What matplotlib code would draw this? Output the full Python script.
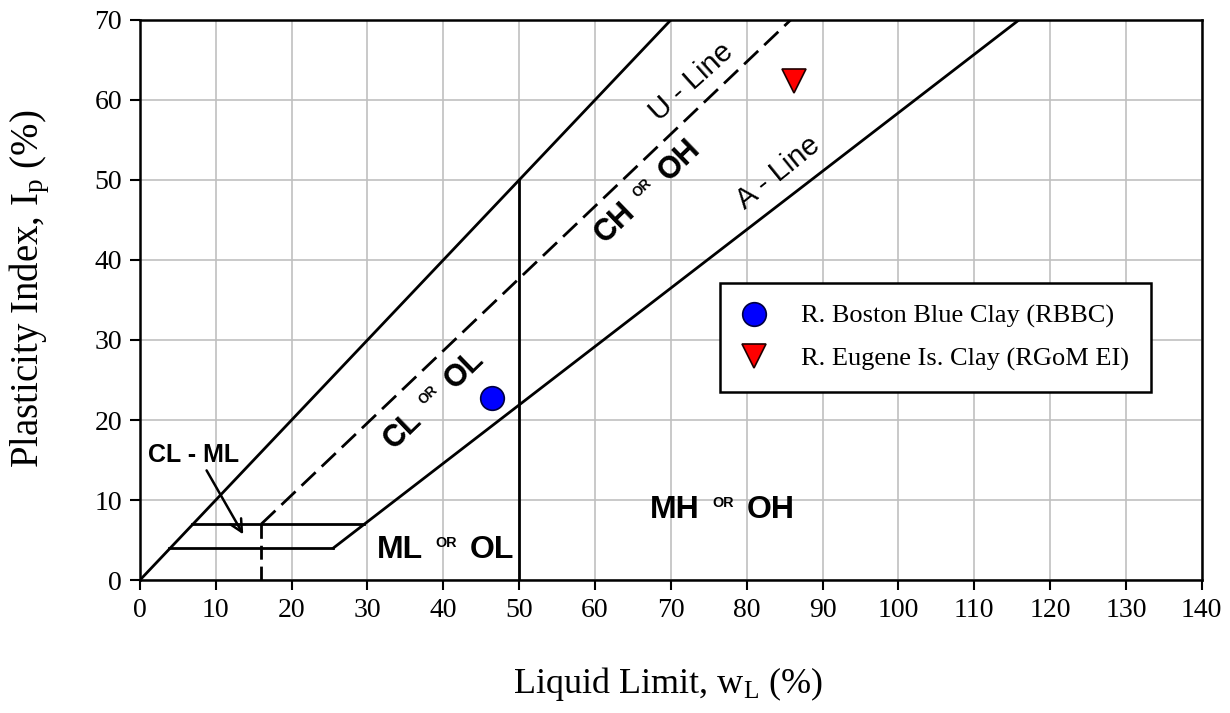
import numpy as np
import matplotlib
matplotlib.use("Agg")
import matplotlib.pyplot as plt
import matplotlib.transforms as mtransforms

# data points
rbbc_wl = [46.4]
rbbc_ip = [22.7]
rgom_wl = [86.2]
rgom_ip = [62.4]

# classification lines (wL, Ip)
one_to_one_wl = [0, 70]
one_to_one_ip = [0, 70]
u_line_wl = [16, 85.8]
u_line_ip = [7, 70]
a_line_wl = [25.5, 115.9]
a_line_ip = [4, 70]
low_h_wl = [3.8, 25.5]
low_h_ip = [4, 4]
high_h_wl = [6.9, 29.6]
high_h_ip = [7, 7]
u_vert_wl = [16, 16]
u_vert_ip = [0, 7]
ll50_wl = [50, 50]
ll50_ip = [0, 50]

x_ticks = list(range(0, 141, 10))
y_ticks = list(range(0, 71, 10))

serif = "Liberation Serif"
sans = "Liberation Sans"
plt.rcParams["mathtext.fontset"] = "custom"
plt.rcParams["mathtext.rm"] = serif
plt.rcParams["mathtext.it"] = serif + ":italic"

fig = plt.figure(figsize=(12.3, 7.13), dpi=100)
ax = fig.add_axes([0.1138, 0.1865, 0.8632, 0.7855])

ax.set_xlim(0, 140)
ax.set_ylim(0, 70)
ax.set_xticks(x_ticks)
ax.set_yticks(y_ticks)
ax.grid(True, color="#c0c0c0", lw=1.2)
ax.set_axisbelow(True)
for s in ax.spines.values():
    s.set_linewidth(1.8)
ax.tick_params(direction="out", length=7, width=1.5, labelsize=20, pad=6)
for lab in ax.get_xticklabels() + ax.get_yticklabels():
    lab.set_family(serif)

lw = 2.0
ax.plot(one_to_one_wl, one_to_one_ip, color="black", lw=lw)
ax.plot(u_line_wl, u_line_ip, color="black", lw=lw, ls=(0, (7, 3)))
ax.plot(a_line_wl, a_line_ip, color="black", lw=lw)
ax.plot(low_h_wl, low_h_ip, color="black", lw=lw)
ax.plot(high_h_wl, high_h_ip, color="black", lw=lw)
ax.plot(u_vert_wl, u_vert_ip, color="black", lw=lw, ls=(0, (5, 2.5)))
ax.plot(ll50_wl, ll50_ip, color="black", lw=lw)

ax.plot(rbbc_wl, rbbc_ip, "o", ms=17, mfc="#0000ff", mec="#000040", mew=1.2,
        ls="none", label="R. Boston Blue Clay (RBBC)", zorder=5)
ax.plot(rgom_wl, rgom_ip, "v", ms=17, mfc="#ff0000", mec="#200000", mew=1.2,
        ls="none", label="R. Eugene Is. Clay (RGoM EI)", zorder=5)

leg = ax.legend(loc="upper left", bbox_to_anchor=(0.546, 0.530), borderaxespad=0,
                fancybox=False, framealpha=1, edgecolor="black",
                prop={"family": serif, "size": 19}, handletextpad=1.3,
                borderpad=0.8, labelspacing=0.7, handlelength=1.0)
leg.get_frame().set_linewidth(1.8)

ax.set_xlabel("Liquid Limit, w$_\\mathrm{L}$ (%)", family=serif, fontsize=26)
ax.set_ylabel("Plasticity Index, I$_\\mathrm{p}$ (%)", family=serif, fontsize=28)
ax.xaxis.set_label_coords(0.497, -0.152)
ax.yaxis.set_label_coords(-0.083, 0.52)

renderer = fig.canvas.get_renderer()


def zone_label(x, y, big1, big2, angle, size=23):
    small = size * 0.45
    parts = [(big1, size, 0), ("OR", small, size * 0.48), (big2, size, 0)]
    th = np.radians(angle)
    c, s = np.cos(th), np.sin(th)
    gap = size * 0.55
    pos = 0.0
    for txt, fs, rise in parts:
        t = ax.text(0, 0, txt, fontsize=fs, fontweight="bold", family=sans)
        w = t.get_window_extent(renderer).width
        t.remove()
        dx = pos * c - rise * s
        dy = pos * s + rise * c
        tr = mtransforms.offset_copy(ax.transData, fig=fig, x=dx, y=dy, units="dots")
        ax.text(x, y, txt, fontsize=fs, fontweight="bold", family=sans,
                rotation=angle, rotation_mode="anchor", ha="left", va="baseline",
                transform=tr)
        pos += w + gap


zone_label(33.4, 16.3, "CL", "OL", 44, size=22)
zone_label(61.3, 42.0, "CH", "OH", 44, size=22)
zone_label(31.2, 2.75, "ML", "OL", 0)
zone_label(67.3, 7.7, "MH", "OH", 0)

ax.text(68.4, 57.3, "U - Line", family=sans, fontsize=21, rotation=42,
        rotation_mode="anchor", ha="left", va="baseline")
ax.text(79.8, 46.3, "A - Line", family=sans, fontsize=21, rotation=39,
        rotation_mode="anchor", ha="left", va="baseline")

ax.text(1.0, 15.6, "CL - ML", family=sans, fontsize=18, fontweight="bold",
        ha="left", va="center")
ax.annotate("", xy=(13.8, 5.4), xytext=(8.6, 14),
            arrowprops=dict(arrowstyle="->", lw=1.8, mutation_scale=22, color="black"))

fig.savefig("out.png", dpi=100)
